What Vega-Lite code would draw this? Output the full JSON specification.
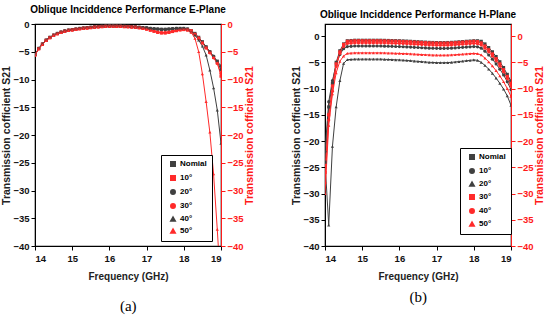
{
  "$schema": "https://vega.github.io/schema/vega-lite/v6.json",
  "background": "white",
  "padding": {"left": 1, "top": 4, "right": 1, "bottom": 2},
  "config": {
    "font": "Liberation Sans, Arial, sans-serif",
    "view": {"stroke": "#000", "strokeWidth": 1.2},
    "concat": {"spacing": 35},
    "axis": {
      "grid": false,
      "labelFont": "Liberation Sans, Arial, sans-serif",
      "labelFontWeight": "bold",
      "labelFontSize": 9.5,
      "labelColor": "#111",
      "labelOverlap": false,
      "labelBound": false,
      "tickColor": "#000",
      "domainColor": "#000",
      "tickSize": 4,
      "labelPadding": 2,
      "titleFont": "Liberation Sans, Arial, sans-serif",
      "titleFontWeight": "bold",
      "titleFontSize": 10.5,
      "titleColor": "#222"
    },
    "legend": {
      "orient": "none",
      "strokeColor": "#000",
      "fillColor": "white",
      "padding": 5,
      "labelFont": "Liberation Sans, Arial, sans-serif",
      "labelFontSize": 8,
      "labelFontWeight": "bold",
      "labelColor": "#000",
      "symbolSize": 20,
      "rowPadding": 2,
      "labelOffset": 3,
      "symbolOffset": 3
    }
  },
  "datasets": {
    "a": [
      {"f":14.0,"Nomial":-5.5,"10°":-5.55,"20°":-5.5,"30°":-5.55,"40°":-5.5,"50°":-5.6},
      {"f":14.1,"Nomial":-4.4,"10°":-4.45,"20°":-4.4,"30°":-4.45,"40°":-4.4,"50°":-4.5},
      {"f":14.2,"Nomial":-3.6,"10°":-3.65,"20°":-3.6,"30°":-3.65,"40°":-3.6,"50°":-3.7},
      {"f":14.3,"Nomial":-2.9,"10°":-2.95,"20°":-2.9,"30°":-2.95,"40°":-2.9,"50°":-3.0},
      {"f":14.4,"Nomial":-2.4,"10°":-2.45,"20°":-2.4,"30°":-2.45,"40°":-2.4,"50°":-2.5},
      {"f":14.5,"Nomial":-2.0,"10°":-2.05,"20°":-2.0,"30°":-2.05,"40°":-2.0,"50°":-2.1},
      {"f":14.6,"Nomial":-1.7,"10°":-1.75,"20°":-1.7,"30°":-1.75,"40°":-1.7,"50°":-1.8},
      {"f":14.7,"Nomial":-1.45,"10°":-1.5,"20°":-1.45,"30°":-1.5,"40°":-1.45,"50°":-1.55},
      {"f":14.8,"Nomial":-1.25,"10°":-1.3,"20°":-1.25,"30°":-1.3,"40°":-1.25,"50°":-1.35},
      {"f":14.9,"Nomial":-1.1,"10°":-1.15,"20°":-1.1,"30°":-1.15,"40°":-1.1,"50°":-1.2},
      {"f":15.0,"Nomial":-1.0,"10°":-1.05,"20°":-1.0,"30°":-1.05,"40°":-1.0,"50°":-1.1},
      {"f":15.1,"Nomial":-0.9,"10°":-0.95,"20°":-0.9,"30°":-0.95,"40°":-0.9,"50°":-1.0},
      {"f":15.2,"Nomial":-0.8,"10°":-0.85,"20°":-0.8,"30°":-0.85,"40°":-0.8,"50°":-0.9},
      {"f":15.3,"Nomial":-0.72,"10°":-0.77,"20°":-0.72,"30°":-0.77,"40°":-0.72,"50°":-0.82},
      {"f":15.4,"Nomial":-0.65,"10°":-0.7,"20°":-0.65,"30°":-0.7,"40°":-0.65,"50°":-0.75},
      {"f":15.5,"Nomial":-0.58,"10°":-0.63,"20°":-0.58,"30°":-0.63,"40°":-0.58,"50°":-0.68},
      {"f":15.6,"Nomial":-0.5,"10°":-0.55,"20°":-0.5,"30°":-0.55,"40°":-0.5,"50°":-0.6},
      {"f":15.7,"Nomial":-0.45,"10°":-0.5,"20°":-0.45,"30°":-0.5,"40°":-0.45,"50°":-0.55},
      {"f":15.8,"Nomial":-0.4,"10°":-0.45,"20°":-0.4,"30°":-0.45,"40°":-0.4,"50°":-0.5},
      {"f":15.9,"Nomial":-0.37,"10°":-0.42,"20°":-0.37,"30°":-0.42,"40°":-0.37,"50°":-0.47},
      {"f":16.0,"Nomial":-0.35,"10°":-0.4,"20°":-0.35,"30°":-0.4,"40°":-0.35,"50°":-0.45},
      {"f":16.1,"Nomial":-0.35,"10°":-0.4,"20°":-0.35,"30°":-0.4,"40°":-0.35,"50°":-0.45},
      {"f":16.2,"Nomial":-0.36,"10°":-0.41,"20°":-0.36,"30°":-0.41,"40°":-0.36,"50°":-0.46},
      {"f":16.3,"Nomial":-0.38,"10°":-0.43,"20°":-0.38,"30°":-0.43,"40°":-0.38,"50°":-0.48},
      {"f":16.4,"Nomial":-0.4,"10°":-0.45,"20°":-0.4,"30°":-0.45,"40°":-0.4,"50°":-0.5},
      {"f":16.5,"Nomial":-0.43,"10°":-0.48,"20°":-0.43,"30°":-0.48,"40°":-0.43,"50°":-0.53},
      {"f":16.6,"Nomial":-0.47,"10°":-0.52,"20°":-0.47,"30°":-0.52,"40°":-0.47,"50°":-0.57},
      {"f":16.7,"Nomial":-0.52,"10°":-0.57,"20°":-0.52,"30°":-0.57,"40°":-0.52,"50°":-0.62},
      {"f":16.8,"Nomial":-0.58,"10°":-0.66,"20°":-0.58,"30°":-0.66,"40°":-0.58,"50°":-0.7},
      {"f":16.9,"Nomial":-0.64,"10°":-0.77,"20°":-0.64,"30°":-0.77,"40°":-0.64,"50°":-0.8},
      {"f":17.0,"Nomial":-0.7,"10°":-0.9,"20°":-0.7,"30°":-0.9,"40°":-0.7,"50°":-0.92},
      {"f":17.1,"Nomial":-0.8,"10°":-1.1,"20°":-0.8,"30°":-1.08,"40°":-0.8,"50°":-1.1},
      {"f":17.2,"Nomial":-0.85,"10°":-1.3,"20°":-0.85,"30°":-1.27,"40°":-0.85,"50°":-1.3},
      {"f":17.3,"Nomial":-0.9,"10°":-1.5,"20°":-0.9,"30°":-1.45,"40°":-0.9,"50°":-1.5},
      {"f":17.4,"Nomial":-0.95,"10°":-1.6,"20°":-0.95,"30°":-1.55,"40°":-0.95,"50°":-1.6},
      {"f":17.5,"Nomial":-0.95,"10°":-1.6,"20°":-0.95,"30°":-1.55,"40°":-0.95,"50°":-1.6},
      {"f":17.6,"Nomial":-0.9,"10°":-1.5,"20°":-0.9,"30°":-1.45,"40°":-0.9,"50°":-1.5},
      {"f":17.7,"Nomial":-0.85,"10°":-1.35,"20°":-0.85,"30°":-1.3,"40°":-0.85,"50°":-1.35},
      {"f":17.8,"Nomial":-0.8,"10°":-1.2,"20°":-0.8,"30°":-1.17,"40°":-0.8,"50°":-1.2},
      {"f":17.9,"Nomial":-0.8,"10°":-1.05,"20°":-0.8,"30°":-1.03,"40°":-0.8,"50°":-1.05},
      {"f":18.0,"Nomial":-0.8,"10°":-1.0,"20°":-0.8,"30°":-0.98,"40°":-0.8,"50°":-1.0},
      {"f":18.1,"Nomial":-0.9,"10°":-1.05,"20°":-0.9,"30°":-1.02,"40°":-0.95,"50°":-1.1},
      {"f":18.2,"Nomial":-1.2,"10°":-1.3,"20°":-1.3,"30°":-1.2,"40°":-1.4,"50°":-1.5},
      {"f":18.3,"Nomial":-1.7,"10°":-1.9,"20°":-1.8,"30°":-1.8,"40°":-2.0,"50°":-2.6},
      {"f":18.4,"Nomial":-2.4,"10°":-2.6,"20°":-2.5,"30°":-2.5,"40°":-2.9,"50°":-5.0},
      {"f":18.5,"Nomial":-3.2,"10°":-3.4,"20°":-3.3,"30°":-3.4,"40°":-4.0,"50°":-9.0},
      {"f":18.6,"Nomial":-4.1,"10°":-4.3,"20°":-4.2,"30°":-4.3,"40°":-5.6,"50°":-14.0},
      {"f":18.7,"Nomial":-5.0,"10°":-5.1,"20°":-5.0,"30°":-5.2,"40°":-8.3,"50°":-19.5},
      {"f":18.8,"Nomial":-5.9,"10°":-6.0,"20°":-5.8,"30°":-6.1,"40°":-11.5,"50°":-27.0},
      {"f":18.9,"Nomial":-6.7,"10°":-7.0,"20°":-6.8,"30°":-7.1,"40°":-15.5,"50°":-37.0},
      {"f":19.0,"Nomial":-7.6,"10°":-9.4,"20°":-8.2,"30°":-8.9,"40°":-21.5,"50°":-48.0}
    ],
    "b": [
      {"f":14.0,"Nomial":-24,"10°":-22,"20°":-24,"30°":-26,"40°":-28,"50°":-30},
      {"f":14.1,"Nomial":-13.5,"10°":-12.5,"20°":-36,"30°":-15,"40°":-16,"50°":-17},
      {"f":14.2,"Nomial":-9,"10°":-8.5,"20°":-21,"30°":-9.5,"40°":-10.5,"50°":-11},
      {"f":14.3,"Nomial":-5,"10°":-5.5,"20°":-13.5,"30°":-5.3,"40°":-5.8,"50°":-7},
      {"f":14.4,"Nomial":-2.8,"10°":-3.5,"20°":-8.5,"30°":-3.0,"40°":-3.3,"50°":-4.8},
      {"f":14.5,"Nomial":-1.5,"10°":-2.4,"20°":-5.2,"30°":-1.6,"40°":-2.0,"50°":-3.8},
      {"f":14.6,"Nomial":-0.9,"10°":-2.0,"20°":-4.5,"30°":-1.0,"40°":-1.4,"50°":-3.3},
      {"f":14.7,"Nomial":-0.85,"10°":-1.95,"20°":-4.45,"30°":-0.95,"40°":-1.35,"50°":-3.25},
      {"f":14.8,"Nomial":-0.8,"10°":-1.9,"20°":-4.4,"30°":-0.9,"40°":-1.3,"50°":-3.2},
      {"f":14.9,"Nomial":-0.8,"10°":-1.9,"20°":-4.4,"30°":-0.9,"40°":-1.3,"50°":-3.2},
      {"f":15.0,"Nomial":-0.8,"10°":-1.9,"20°":-4.4,"30°":-0.9,"40°":-1.3,"50°":-3.2},
      {"f":15.1,"Nomial":-0.8,"10°":-1.9,"20°":-4.4,"30°":-0.9,"40°":-1.3,"50°":-3.2},
      {"f":15.2,"Nomial":-0.8,"10°":-1.9,"20°":-4.4,"30°":-0.9,"40°":-1.3,"50°":-3.2},
      {"f":15.3,"Nomial":-0.8,"10°":-1.9,"20°":-4.4,"30°":-0.9,"40°":-1.3,"50°":-3.2},
      {"f":15.4,"Nomial":-0.8,"10°":-1.9,"20°":-4.4,"30°":-0.9,"40°":-1.3,"50°":-3.2},
      {"f":15.5,"Nomial":-0.8,"10°":-1.9,"20°":-4.4,"30°":-0.9,"40°":-1.3,"50°":-3.2},
      {"f":15.6,"Nomial":-0.82,"10°":-1.92,"20°":-4.43,"30°":-0.92,"40°":-1.32,"50°":-3.22},
      {"f":15.7,"Nomial":-0.84,"10°":-1.94,"20°":-4.46,"30°":-0.94,"40°":-1.34,"50°":-3.24},
      {"f":15.8,"Nomial":-0.86,"10°":-1.96,"20°":-4.49,"30°":-0.96,"40°":-1.36,"50°":-3.26},
      {"f":15.9,"Nomial":-0.88,"10°":-1.98,"20°":-4.52,"30°":-0.98,"40°":-1.38,"50°":-3.28},
      {"f":16.0,"Nomial":-0.9,"10°":-2.0,"20°":-4.55,"30°":-1.0,"40°":-1.4,"50°":-3.3},
      {"f":16.1,"Nomial":-0.93,"10°":-2.03,"20°":-4.6,"30°":-1.03,"40°":-1.43,"50°":-3.33},
      {"f":16.2,"Nomial":-0.96,"10°":-2.06,"20°":-4.64,"30°":-1.06,"40°":-1.46,"50°":-3.36},
      {"f":16.3,"Nomial":-1.0,"10°":-2.1,"20°":-4.7,"30°":-1.1,"40°":-1.5,"50°":-3.4},
      {"f":16.4,"Nomial":-1.04,"10°":-2.14,"20°":-4.76,"30°":-1.14,"40°":-1.54,"50°":-3.44},
      {"f":16.5,"Nomial":-1.08,"10°":-2.18,"20°":-4.82,"30°":-1.18,"40°":-1.58,"50°":-3.48},
      {"f":16.6,"Nomial":-1.12,"10°":-2.22,"20°":-4.88,"30°":-1.22,"40°":-1.62,"50°":-3.52},
      {"f":16.7,"Nomial":-1.16,"10°":-2.26,"20°":-4.94,"30°":-1.26,"40°":-1.66,"50°":-3.56},
      {"f":16.8,"Nomial":-1.2,"10°":-2.3,"20°":-5.0,"30°":-1.3,"40°":-1.7,"50°":-3.6},
      {"f":16.9,"Nomial":-1.22,"10°":-2.32,"20°":-5.03,"30°":-1.32,"40°":-1.72,"50°":-3.62},
      {"f":17.0,"Nomial":-1.24,"10°":-2.34,"20°":-5.06,"30°":-1.34,"40°":-1.74,"50°":-3.64},
      {"f":17.1,"Nomial":-1.25,"10°":-2.35,"20°":-5.08,"30°":-1.35,"40°":-1.75,"50°":-3.65},
      {"f":17.2,"Nomial":-1.25,"10°":-2.35,"20°":-5.08,"30°":-1.35,"40°":-1.75,"50°":-3.65},
      {"f":17.3,"Nomial":-1.23,"10°":-2.33,"20°":-5.05,"30°":-1.33,"40°":-1.73,"50°":-3.63},
      {"f":17.4,"Nomial":-1.2,"10°":-2.3,"20°":-5.0,"30°":-1.3,"40°":-1.7,"50°":-3.6},
      {"f":17.5,"Nomial":-1.16,"10°":-2.26,"20°":-4.94,"30°":-1.26,"40°":-1.66,"50°":-3.56},
      {"f":17.6,"Nomial":-1.1,"10°":-2.2,"20°":-4.85,"30°":-1.2,"40°":-1.6,"50°":-3.5},
      {"f":17.7,"Nomial":-1.05,"10°":-2.15,"20°":-4.78,"30°":-1.15,"40°":-1.55,"50°":-3.45},
      {"f":17.8,"Nomial":-1.0,"10°":-2.1,"20°":-4.7,"30°":-1.1,"40°":-1.5,"50°":-3.4},
      {"f":17.9,"Nomial":-0.95,"10°":-2.05,"20°":-4.62,"30°":-1.05,"40°":-1.45,"50°":-3.35},
      {"f":18.0,"Nomial":-0.9,"10°":-2.0,"20°":-4.55,"30°":-1.0,"40°":-1.4,"50°":-3.3},
      {"f":18.1,"Nomial":-0.9,"10°":-2.05,"20°":-4.62,"30°":-1.05,"40°":-1.45,"50°":-3.35},
      {"f":18.2,"Nomial":-1.0,"10°":-2.3,"20°":-5.0,"30°":-1.3,"40°":-1.7,"50°":-3.6},
      {"f":18.3,"Nomial":-1.5,"10°":-2.9,"20°":-5.6,"30°":-1.9,"40°":-2.3,"50°":-4.2},
      {"f":18.4,"Nomial":-2.2,"10°":-3.6,"20°":-6.3,"30°":-2.6,"40°":-3.0,"50°":-4.9},
      {"f":18.5,"Nomial":-3.0,"10°":-4.4,"20°":-7.1,"30°":-3.4,"40°":-3.8,"50°":-5.7},
      {"f":18.6,"Nomial":-3.9,"10°":-5.3,"20°":-8.0,"30°":-4.3,"40°":-4.7,"50°":-6.6},
      {"f":18.7,"Nomial":-4.9,"10°":-6.3,"20°":-9.0,"30°":-5.3,"40°":-5.7,"50°":-7.6},
      {"f":18.8,"Nomial":-6.0,"10°":-7.4,"20°":-10.1,"30°":-6.4,"40°":-6.8,"50°":-8.7},
      {"f":18.9,"Nomial":-7.3,"10°":-8.7,"20°":-11.4,"30°":-7.7,"40°":-8.1,"50°":-10.0},
      {"f":19.0,"Nomial":-8.6,"10°":-10.2,"20°":-13.2,"30°":-9.0,"40°":-9.5,"50°":-11.5}
    ]
  },
  "hconcat": [
    {
      "title": {"text": "(a)", "orient": "bottom", "font": "Liberation Serif, DejaVu Serif, serif", "fontSize": 15, "fontWeight": "normal", "color": "#000", "offset": 8, "anchor": "middle"},
      "vconcat": [
        {
          "title": {"text": "Oblique Inciddence Performance E-Plane", "font": "Liberation Sans, Arial, sans-serif", "fontSize": 10, "fontWeight": "bold", "color": "#000", "offset": 4},
          "width": 186,
          "height": 222,
          "data": {"name": "a"},
          "transform": [{"fold": ["Nomial", "10°", "20°", "30°", "40°", "50°"], "as": ["s", "v"]}],
          "layer": [
            {
              "layer": [
                {
                  "mark": {"type": "line", "clip": true, "strokeWidth": 1},
                  "encoding": {
                    "x": {"field": "f", "type": "quantitative", "scale": {"domain": [14, 19], "nice": false}, "axis": {"values": [14, 15, 16, 17, 18, 19], "title": "Frequency (GHz)", "titleFontSize": 10, "titlePadding": 9, "labelPadding": 3}},
                    "y": {"field": "v", "type": "quantitative", "scale": {"domain": [-40, 0], "nice": false, "zero": false}, "axis": {"values": [0, -5, -10, -15, -20, -25, -30, -35, -40], "title": "Transmission cofficient S21", "titlePadding": 1, "format": "d"}},
                    "color": {"field": "s", "type": "nominal", "sort": ["Nomial", "10°", "20°", "30°", "40°", "50°"], "scale": {"domain": ["Nomial", "10°", "20°", "30°", "40°", "50°"], "range": ["#404040", "#ff2a2a", "#404040", "#ff2a2a", "#404040", "#ff2a2a"]}, "legend": {"title": null, "legendX": 126, "legendY": 131}},
                    "detail": {"field": "s"}
                  }
                },
                {
                  "mark": {"type": "point", "filled": true, "size": 10, "opacity": 1, "clip": true},
                  "encoding": {
                    "x": {"field": "f", "type": "quantitative", "axis": {"values": [14, 15, 16, 17, 18, 19], "title": "Frequency (GHz)", "titleFontSize": 10, "titlePadding": 9, "labelPadding": 3}},
                    "y": {"field": "v", "type": "quantitative", "axis": {"values": [0, -5, -10, -15, -20, -25, -30, -35, -40], "title": "Transmission cofficient S21", "titlePadding": 1, "format": "d"}},
                    "color": {"field": "s", "type": "nominal", "sort": ["Nomial", "10°", "20°", "30°", "40°", "50°"], "legend": {"title": null, "legendX": 126, "legendY": 131}},
                    "shape": {"field": "s", "type": "nominal", "sort": ["Nomial", "10°", "20°", "30°", "40°", "50°"], "scale": {"domain": ["Nomial", "10°", "20°", "30°", "40°", "50°"], "range": ["square", "square", "circle", "circle", "triangle-up", "triangle-up"]}, "legend": {"title": null, "legendX": 126, "legendY": 131}}
                  }
                }
              ]
            },
            {
              "mark": {"type": "line", "opacity": 0},
              "encoding": {
                "x": {"field": "f", "type": "quantitative", "axis": {"values": [14, 15, 16, 17, 18, 19], "title": "Frequency (GHz)", "titleFontSize": 10, "titlePadding": 9, "labelPadding": 3}},
                "y": {"field": "v", "type": "quantitative", "scale": {"domain": [-40, 0], "nice": false, "zero": false}, "axis": {"orient": "right", "values": [0, -5, -10, -15, -20, -25, -30, -35, -40], "format": "d", "title": "Transmission cofficient S21", "titleAngle": 270, "titleBaseline": "top", "titlePadding": 1, "titleColor": "#ff1a1a", "labelColor": "#ff1a1a", "domainColor": "#ff1a1a", "tickColor": "#ff1a1a"}},
                "detail": {"field": "s"}
              }
            }
          ],
          "resolve": {"scale": {"y": "independent"}}
        }
      ]
    },
    {
      "title": {"text": "(b)", "orient": "bottom", "font": "Liberation Serif, DejaVu Serif, serif", "fontSize": 15, "fontWeight": "normal", "color": "#000", "offset": 8, "anchor": "middle"},
      "vconcat": [
        {
          "title": {"text": "Oblique Inciddence Performance H-Plane", "font": "Liberation Sans, Arial, sans-serif", "fontSize": 10, "fontWeight": "bold", "color": "#000", "offset": 4},
          "width": 186,
          "height": 222,
          "data": {"name": "b"},
          "transform": [{"fold": ["Nomial", "10°", "20°", "30°", "40°", "50°"], "as": ["s", "v"]}],
          "layer": [
            {
              "layer": [
                {
                  "mark": {"type": "line", "clip": true, "strokeWidth": 1},
                  "encoding": {
                    "x": {"field": "f", "type": "quantitative", "scale": {"domain": [14, 19], "nice": false}, "axis": {"values": [14, 15, 16, 17, 18, 19], "title": "Frequency (GHz)", "titleFontSize": 10, "titlePadding": 9, "labelPadding": 3}},
                    "y": {"field": "v", "type": "quantitative", "scale": {"domain": [-40, 2.3], "nice": false, "zero": false}, "axis": {"values": [0, -5, -10, -15, -20, -25, -30, -35, -40], "title": "Transmission cofficient S21", "titlePadding": 1, "format": "d"}},
                    "color": {"field": "s", "type": "nominal", "sort": ["Nomial", "10°", "20°", "30°", "40°", "50°"], "scale": {"domain": ["Nomial", "10°", "20°", "30°", "40°", "50°"], "range": ["#404040", "#404040", "#404040", "#ff2a2a", "#ff2a2a", "#ff2a2a"]}, "legend": {"title": null, "legendX": 135, "legendY": 124}},
                    "detail": {"field": "s"}
                  }
                },
                {
                  "mark": {"type": "point", "filled": true, "size": 10, "opacity": 1, "clip": true},
                  "encoding": {
                    "x": {"field": "f", "type": "quantitative", "axis": {"values": [14, 15, 16, 17, 18, 19], "title": "Frequency (GHz)", "titleFontSize": 10, "titlePadding": 9, "labelPadding": 3}},
                    "y": {"field": "v", "type": "quantitative", "axis": {"values": [0, -5, -10, -15, -20, -25, -30, -35, -40], "title": "Transmission cofficient S21", "titlePadding": 1, "format": "d"}},
                    "color": {"field": "s", "type": "nominal", "sort": ["Nomial", "10°", "20°", "30°", "40°", "50°"], "legend": {"title": null, "legendX": 135, "legendY": 124}},
                    "shape": {"field": "s", "type": "nominal", "sort": ["Nomial", "10°", "20°", "30°", "40°", "50°"], "scale": {"domain": ["Nomial", "10°", "20°", "30°", "40°", "50°"], "range": ["square", "circle", "triangle-up", "square", "circle", "triangle-up"]}, "legend": {"title": null, "legendX": 135, "legendY": 124}}
                  }
                }
              ]
            },
            {
              "mark": {"type": "line", "opacity": 0},
              "encoding": {
                "x": {"field": "f", "type": "quantitative", "axis": {"values": [14, 15, 16, 17, 18, 19], "title": "Frequency (GHz)", "titleFontSize": 10, "titlePadding": 9, "labelPadding": 3}},
                "y": {"field": "v", "type": "quantitative", "scale": {"domain": [-40, 2.3], "nice": false, "zero": false}, "axis": {"orient": "right", "values": [0, -5, -10, -15, -20, -25, -30, -35, -40], "format": "d", "title": "Transmission cofficient S21", "titleAngle": 270, "titleBaseline": "top", "titlePadding": 1, "titleColor": "#ff1a1a", "labelColor": "#ff1a1a", "domainColor": "#ff1a1a", "tickColor": "#ff1a1a"}},
                "detail": {"field": "s"}
              }
            }
          ],
          "resolve": {"scale": {"y": "independent"}}
        }
      ]
    }
  ],
  "resolve": {"scale": {"color": "independent", "shape": "independent"}, "legend": {"color": "independent", "shape": "independent"}}
}
